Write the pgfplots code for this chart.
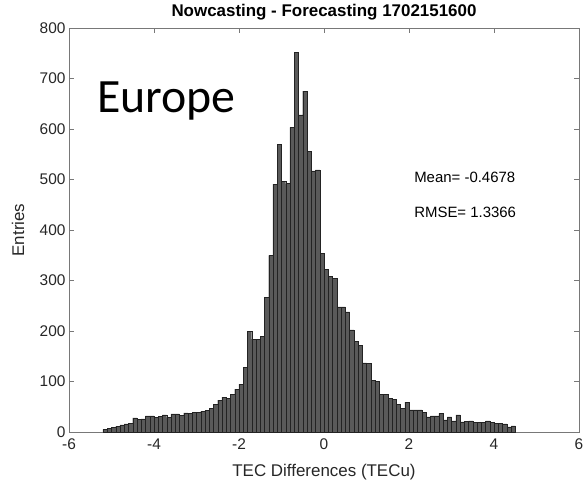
\documentclass[border=0pt]{standalone}
\usepackage{pgfplots}
\pgfplotsset{compat=1.18}
\usepackage{pgfplotstable}
\usepackage{fontspec}
\setmainfont{Liberation Sans}
\newfontfamily\calibri{Carlito}
\definecolor{axgray}{RGB}{38,38,38}
\definecolor{linegray}{RGB}{120,120,120}
\definecolor{barfill}{RGB}{90,90,90}
\definecolor{baredge}{RGB}{35,35,35}

\pgfplotstableread{
x y
-5.15 5
-5.05 7
-4.95 9
-4.85 11
-4.75 14
-4.65 16
-4.55 17
-4.45 28
-4.35 25
-4.25 26
-4.15 32
-4.05 32
-3.95 29
-3.85 31
-3.75 34
-3.65 29
-3.55 36
-3.45 36
-3.35 33
-3.25 38
-3.15 37
-3.05 39
-2.95 39
-2.85 41
-2.75 43
-2.65 47
-2.55 55
-2.45 63
-2.35 69
-2.25 67
-2.15 75
-2.05 85
-1.95 95
-1.85 128
-1.75 199
-1.65 184
-1.55 184
-1.45 189
-1.35 267
-1.25 350
-1.15 491
-1.05 570
-0.95 496
-0.85 492
-0.75 603
-0.65 752
-0.55 628
-0.45 675
-0.35 556
-0.25 517
-0.15 519
-0.05 354
0.05 322
0.15 308
0.25 304
0.35 248
0.45 248
0.55 238
0.65 202
0.75 179
0.85 171
0.95 137
1.05 136
1.15 102
1.25 100
1.35 75
1.45 75
1.55 67
1.65 65
1.75 55
1.85 47
1.95 59
2.05 44
2.15 44
2.25 44
2.35 39
2.45 30
2.55 32
2.65 32
2.75 37
2.85 24
2.95 30
3.05 22
3.15 34
3.25 20
3.35 21
3.45 22
3.55 19
3.65 19
3.75 19
3.85 22
3.95 19
4.05 17
4.15 17
4.25 16
4.35 10
4.45 12
}\histdata

\begin{document}
\begin{tikzpicture}
\useasboundingbox (-69bp,-51bp) rectangle (516bp,432bp);
\begin{axis}[
  at={(0,0)}, anchor=south west,
  scale only axis, width=510bp, height=404bp,
  xmin=-6, xmax=6, ymin=0, ymax=800,
  xtick={-6,-4,...,6}, ytick={0,100,...,800},
  tick align=inside,
  axis line style={draw=linegray, line width=0.7pt},
  major tick style={draw=linegray, line width=0.7pt},
  major tick length=5bp,
  /pgf/number format/assume math mode=true,
  tick label style={font=\fontsize{15.5}{18}\selectfont, text=axgray},
  xticklabel style={yshift=-3bp},
  title={Nowcasting - Forecasting 1702151600},
  every axis title/.style={at={(axis description cs:0.5,1.038)}, anchor=center, font=\bfseries\fontsize{17}{20}\selectfont, text=black},
  xlabel={TEC Differences (TECu)},
  ylabel={Entries},
  every axis x label/.style={at={(axis description cs:0.5,-0.10)}, anchor=center, font=\fontsize{17}{20}\selectfont, text=axgray},
  every axis y label/.style={at={(axis description cs:-0.10,0.5)}, anchor=center, rotate=90, font=\fontsize{17}{20}\selectfont, text=axgray},
]
\addplot[ybar, bar width=0.1, bar shift=0pt, fill=barfill, draw=baredge, line width=0.45pt] table[x=x,y=y]{\histdata};
\node[anchor=base west, inner sep=0pt, font=\calibri\fontsize{48}{58}\selectfont] at (axis cs:-5.34,632) {Europe};
\node[anchor=base west, inner sep=0pt, font=\fontsize{15}{18}\selectfont, text=black] at (axis cs:2.12,495) {Mean= -0.4678};
\node[anchor=base west, inner sep=0pt, font=\fontsize{15}{18}\selectfont, text=black] at (axis cs:2.12,424) {RMSE= 1.3366};
\end{axis}
\end{tikzpicture}
\end{document}
